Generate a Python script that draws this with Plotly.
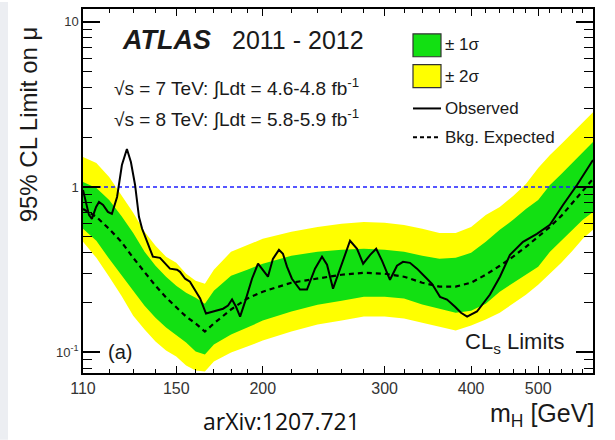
import math
import plotly.graph_objects as go

# Higgs boson mass points (GeV) where the expected limit and its bands are given
band_mass = [110, 115, 120, 125, 130, 135, 140, 145, 150, 155, 160, 165, 170,
             180, 190, 200, 220, 240, 260, 280, 300, 320, 340, 360, 380, 400,
             420, 440, 460, 480, 500, 520, 540, 560, 580, 600]

# Median expected 95% CL limit on mu (background only)
expected = [0.736, 0.659, 0.557, 0.465, 0.372, 0.306, 0.252, 0.214, 0.186, 0.164,
            0.149, 0.133, 0.149, 0.181, 0.211, 0.232, 0.263, 0.278, 0.294, 0.302,
            0.298, 0.286, 0.263, 0.249, 0.249, 0.263, 0.294, 0.333, 0.378, 0.434,
            0.499, 0.573, 0.668, 0.800, 0.946, 1.118]

# +/- 1 sigma band
plus1 = [1.072, 0.986, 0.835, 0.668, 0.527, 0.405, 0.333, 0.286, 0.252, 0.229,
         0.2135, 0.196, 0.235, 0.290, 0.315, 0.343, 0.383, 0.405, 0.416, 0.422,
         0.416, 0.405, 0.383, 0.367, 0.372, 0.399, 0.465, 0.550, 0.632, 0.736,
         0.835, 1.028, 1.198, 1.396, 1.627, 1.870]
minus1 = [0.558, 0.472, 0.367, 0.290, 0.235, 0.191, 0.1616, 0.1406, 0.1258, 0.1141,
          0.1007, 0.0966, 0.1110, 0.1276, 0.1406, 0.1550, 0.176, 0.1936, 0.2047, 0.216,
          0.216, 0.211, 0.194, 0.183, 0.173, 0.178, 0.196, 0.232, 0.263, 0.294,
          0.329, 0.405, 0.472, 0.550, 0.632, 0.706]

# +/- 2 sigma band
plus2 = [1.518, 1.396, 1.149, 0.895, 0.697, 0.535, 0.440, 0.378, 0.347, 0.298,
         0.270, 0.259, 0.315, 0.405, 0.446, 0.485, 0.535, 0.573, 0.598, 0.614,
         0.606, 0.589, 0.558, 0.527, 0.527, 0.573, 0.677, 0.757, 0.882, 1.043,
         1.303, 1.561, 1.819, 2.120, 2.470, 2.839]
minus2 = [0.465, 0.372, 0.286, 0.2195, 0.1661, 0.1367, 0.1157, 0.1021, 0.0939, 0.0829,
          0.0773, 0.0762, 0.0876, 0.0993, 0.1080, 0.1174, 0.1330, 0.1466, 0.1550, 0.1639,
          0.1639, 0.1594, 0.1507, 0.1426, 0.1349, 0.1446, 0.1572, 0.173, 0.196, 0.2226,
          0.2557, 0.298, 0.347, 0.410, 0.485, 0.550]

# Observed 95% CL limit
obs_mass = [110.0, 111.1, 112.2, 113.3, 114.9, 116.0, 117.6, 119.5, 121.1, 123.2,
            125.2, 127.3, 129.0, 130.8, 132.5, 133.9, 136.1, 138.8, 142.1, 144.5,
            146.9, 150.4, 151.9, 154.5, 157.0, 160.2, 162.4, 165.6, 169.5, 175.3,
            178.2, 180.6, 183.0, 185.5, 188.6, 193.0, 196.9, 199.5, 203.5, 206.9,
            211.1, 213.9, 216.8, 220.4, 226.4, 231.7, 238.0, 243.6, 247.7, 252.7,
            258.6, 263.0, 267.4, 273.7, 279.3, 285.9, 291.7, 297.5, 305.4, 312.6,
            318.9, 326.4, 334.1, 343.1, 351.2, 360.7, 369.2, 379.2, 386.8, 394.7,
            407.9, 425.9, 440.3, 455.2, 475.4, 497.9, 519.9, 543.0, 568.9, 600.0]
obs_limit = [0.959, 0.812, 0.677, 0.641, 0.757, 0.812, 0.778, 0.706, 0.687, 0.870,
             1.358, 1.697, 1.416, 1.028, 0.659, 0.558, 0.465, 0.378, 0.372, 0.343,
             0.320, 0.315, 0.306, 0.278, 0.267, 0.232, 0.211, 0.171, 0.176, 0.183,
             0.191, 0.208, 0.188, 0.164, 0.202, 0.278, 0.343, 0.320, 0.286, 0.367,
             0.416, 0.394, 0.329, 0.278, 0.239, 0.239, 0.320, 0.378, 0.338, 0.242,
             0.320, 0.394, 0.472, 0.422, 0.343, 0.388, 0.422, 0.357, 0.274, 0.333,
             0.352, 0.347, 0.320, 0.286, 0.259, 0.216, 0.208, 0.188, 0.173, 0.164,
             0.176, 0.223, 0.286, 0.388, 0.465, 0.520, 0.589, 0.778, 1.028, 1.456]

# Reference line mu = 1 across the full mass range
ref_mass = [110, 600]
ref_mu = [1.0, 1.0]

# Axis ticks
x_major = [110, 150, 200, 300, 400, 500]
x_major_text = ["110", "150", "200", "300", "400", "500"]
x_minor = [120, 130, 140, 160, 170, 180, 190, 220, 240, 260, 280, 320, 340,
           360, 380, 420, 440, 460, 480, 520, 540, 560, 580]
y_major = [0.1, 1, 10]
y_major_text = ["10<sup>-1</sup>", "1", "10"]
y_minor = [0.08, 0.09, 0.2, 0.3, 0.4, 0.5, 0.6, 0.7, 0.8, 0.9,
           2, 3, 4, 5, 6, 7, 8, 9]

GREEN = "#12e012"
YELLOW = "#ffff00"
FONT = "Liberation Sans, Arial, sans-serif"
INK = "#1a1a1a"

fig = go.Figure()
band = dict(mode="lines", line=dict(width=0), showlegend=False, hoverinfo="skip")
fig.add_trace(go.Scatter(x=band_mass, y=minus2, **band))
fig.add_trace(go.Scatter(x=band_mass, y=plus2, fill="tonexty", fillcolor=YELLOW, **band))
fig.add_trace(go.Scatter(x=band_mass, y=minus1, **band))
fig.add_trace(go.Scatter(x=band_mass, y=plus1, fill="tonexty", fillcolor=GREEN, **band))
fig.add_trace(go.Scatter(x=ref_mass, y=ref_mu, mode="lines", showlegend=False,
                         line=dict(color="#1f1fff", width=1.6, dash="4px,3px")))
fig.add_trace(go.Scatter(x=band_mass, y=expected, mode="lines", showlegend=False,
                         line=dict(color="black", width=2.2, dash="5px,4px")))
fig.add_trace(go.Scatter(x=obs_mass, y=obs_limit, mode="lines", showlegend=False,
                         line=dict(color="black", width=2)))

# plot area in pixels: x 83..593, y 7..373
def px(x):
    return (x - 83) / 510.0

def py(y):
    return (373 - y) / 366.0

ann = []
def text(s, x, y, size, xanchor="left", yanchor="middle", family=FONT, angle=0, color=INK):
    ann.append(dict(text=s, x=x, y=y, xref="paper", yref="paper", showarrow=False,
                    xanchor=xanchor, yanchor=yanchor, textangle=angle,
                    font=dict(family=family, size=size, color=color)))

text("<b><i>ATLAS</i></b>", px(120), py(38), 27)
text("2011 - 2012", px(230), py(38), 25)
text("√s = 7 TeV: ∫Ldt = 4.6-4.8 fb<sup>-1</sup>", px(112), py(86), 19)
text("√s = 8 TeV: ∫Ldt = 5.8-5.9 fb<sup>-1</sup>", px(112), py(117), 19)
text("± 1σ", px(443), py(43), 17)
text("± 2σ", px(443), py(75), 17)
text("Observed", px(443), py(107), 17)
text("Bkg. Expected", px(443), py(136), 17)
text("(a)", px(106), py(352), 20)
text("CL<sub>s</sub> Limits", px(566), py(343), 22, xanchor="right")
text("m<sub>H</sub> [GeV]", px(596), py(415), 25, xanchor="right")
text("95% CL Limit on μ", px(28), py(123), 24, xanchor="center", angle=-90)
text("arXiv:1207.721", px(281), py(421), 23, xanchor="center",
     family="Open Sans, Noto Sans, sans-serif", color="#111111")

shapes = [
    # light strip along the left edge of the page
    dict(type="rect", xref="paper", yref="paper", x0=px(0), x1=px(8), y0=py(440), y1=py(0),
         fillcolor="#eceef2", line=dict(width=0), layer="below"),
    # legend swatches
    dict(type="rect", xref="paper", yref="paper", x0=px(413), x1=px(441), y0=py(55), y1=py(32),
         fillcolor=GREEN, line=dict(color="#333333", width=1.2)),
    dict(type="rect", xref="paper", yref="paper", x0=px(413), x1=px(441), y0=py(86), y1=py(63),
         fillcolor=YELLOW, line=dict(color="#333333", width=1.2)),
    dict(type="line", xref="paper", yref="paper", x0=px(413), x1=px(441), y0=py(107), y1=py(107),
         line=dict(color="black", width=2)),
    dict(type="line", xref="paper", yref="paper", x0=px(413), x1=px(441), y0=py(136), y1=py(136),
         line=dict(color="black", width=2, dash="4px,3px")),
]

fig.update_layout(
    width=615, height=440,
    margin=dict(l=83, r=22, t=7, b=67),
    paper_bgcolor="white", plot_bgcolor="white",
    showlegend=False,
    annotations=ann, shapes=shapes,
    xaxis=dict(
        type="log", range=[math.log10(110), math.log10(600)],
        tickmode="array", tickvals=x_major, ticktext=x_major_text,
        ticks="inside", ticklen=7, tickwidth=1.2, tickcolor="black",
        showline=True, linecolor="black", linewidth=1.5, mirror="ticks",
        showgrid=False, zeroline=False,
        tickfont=dict(family=FONT, size=16, color="#333333"),
        minor=dict(tickmode="array", tickvals=x_minor, ticks="inside", ticklen=4,
                   tickwidth=1, tickcolor="black", showgrid=False),
    ),
    yaxis=dict(
        type="log", range=[-1.127, 1.078],
        tickmode="array", tickvals=y_major, ticktext=y_major_text,
        ticks="inside", ticklen=17, tickwidth=1.5, tickcolor="black",
        showline=True, linecolor="black", linewidth=1.5, mirror="ticks",
        showgrid=False, zeroline=False,
        tickfont=dict(family=FONT, size=13, color="#333333"),
        minor=dict(tickmode="array", tickvals=y_minor, ticks="inside", ticklen=9,
                   tickwidth=1.2, tickcolor="black", showgrid=False),
    ),
)

fig.write_html("out.html")
